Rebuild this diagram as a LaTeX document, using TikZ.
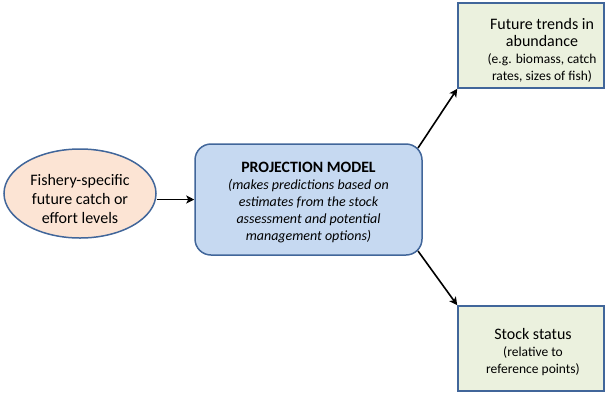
\documentclass[tikz,border=0pt]{standalone}
\usepackage{fontspec}
\setmainfont{Carlito}
\usetikzlibrary{shapes.geometric, arrows.meta}
\definecolor{peach}{HTML}{FCE4D4}
\definecolor{modelblue}{HTML}{C6D9F1}
\definecolor{outcomegreen}{HTML}{EBF1DE}
\definecolor{edgeblue}{HTML}{41669A}
\newcommand\bigline{\fontsize{16}{18}\selectfont}
\tikzset{
inputnode/.style={ellipse, draw=edgeblue, line width=1.5pt, fill=peach,
  minimum width=152pt, minimum height=89pt, inner sep=0pt},
modelnode/.style={rectangle, rounded corners=16pt, draw=edgeblue, line width=1.5pt,
  fill=modelblue, minimum width=227pt, minimum height=111pt, inner sep=0pt},
outcomenode/.style={rectangle, draw=edgeblue, line width=1.5pt, fill=outcomegreen,
  minimum width=146pt, minimum height=85pt, inner sep=0pt},
inputtext/.style={align=center, inner sep=0pt, font=\fontsize{16}{19}\selectfont},
modeltext/.style={align=center, inner sep=0pt, font=\fontsize{14}{17}\selectfont\itshape},
outcometext/.style={align=center, inner sep=0pt, font=\fontsize{13.5}{17}\selectfont},
flow/.style={-{Stealth[length=8pt,width=8pt,inset=2pt]}, line width=1.6pt}
}
\begin{document}
\begin{tikzpicture}[x=1pt,y=-1pt]
\useasboundingbox (0,0) rectangle (609,392);
% boxes
\node[inputnode] (effort) at (80,193.5) {};
\node[modelnode] (model) at (308.5,199.5) {};
\node[outcomenode] (trends) at (531,45.5) {};
\node[outcomenode] (status) at (531,348.5) {};
% texts
\node[inputtext] (efforttext) at (80,199) {Fishery-specific\\future catch or\\effort levels};
\node[modeltext] (modeltitle) at (308.5,203) {%
  \upshape\bfseries\fontsize{15.8}{17}\selectfont PROJECTION MODEL\\
  (makes predictions based on\\estimates from the stock\\assessment and potential\\management options)};
\node[outcometext] (trendstext) at (542,50) {%
  \bigline Future trends in\\
  \bigline abundance\\
  (e.g. biomass, catch\\rates, sizes of fish)};
\node[outcometext] (statustext) at (533,352) {%
  \bigline Stock status\\
  (relative to\\reference points)};
% arrows
\coordinate (upout) at ([shift={(-4.7,4.7)}]model.north east);
\coordinate (downout) at ([shift={(-4.7,-4.7)}]model.south east);
\draw[flow] (effort.east |- model.west) -- (model.west);
\draw[flow] (upout) -- (trends.south west);
\draw[flow] (downout) -- (status.north west);
\end{tikzpicture}
\end{document}
